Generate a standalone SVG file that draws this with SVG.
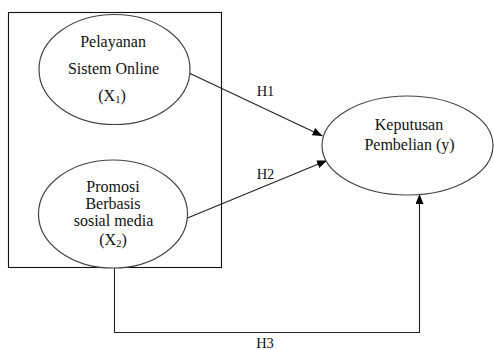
<svg xmlns="http://www.w3.org/2000/svg" width="494" height="350" viewBox="0 0 494 350">
  <defs>
    <marker id="arr" markerWidth="10" markerHeight="8" refX="10" refY="4" orient="auto" markerUnits="userSpaceOnUse">
      <path d="M0,0 L10,4 L0,8 Z" fill="#000"/>
    </marker>
    <style>
      .t { font-family: "Liberation Serif", "Times New Roman", serif; font-size: 16px; fill: #111; text-anchor: middle; }
      .h { font-family: "Liberation Serif", "Times New Roman", serif; font-size: 14.5px; fill: #111; text-anchor: middle; }
      .e { fill: #fff; stroke: #444; stroke-width: 1.2; }
      .c { fill: none; stroke: #222; stroke-width: 1.1; }
    </style>
  </defs>
  <rect width="494" height="350" fill="#fff"/>
  <rect x="8.5" y="12.5" width="213" height="255" fill="none" stroke="#111" stroke-width="1.1"/>

  <g id="connectors">
    <line class="c" x1="189" y1="73" x2="322.5" y2="136" marker-end="url(#arr)"/>
    <line class="c" x1="187.5" y1="218" x2="327" y2="160.5" marker-end="url(#arr)"/>
    <polyline class="c" points="114.5,268 114.5,332.5 419.5,332.5 419.5,194" marker-end="url(#arr)"/>
    <text class="h" x="265.5" y="96">H1</text>
    <text class="h" x="265.5" y="178.5">H2</text>
    <text class="h" x="265" y="348">H3</text>
  </g>

  <g id="x1">
    <ellipse class="e" cx="114.5" cy="69.5" rx="75.5" ry="55"/>
    <text class="t" x="113" y="46.5">Pelayanan</text>
    <text class="t" x="113.5" y="73.5">Sistem Online</text>
    <text class="t" x="112" y="101">(X<tspan font-size="10.5" dy="2">1</tspan><tspan dy="-2">)</tspan></text>
  </g>

  <g id="x2">
    <ellipse class="e" cx="113" cy="214" rx="74.5" ry="54"/>
    <text class="t" x="113" y="191.5">Promosi</text>
    <text class="t" x="113" y="208.5">Berbasis</text>
    <text class="t" x="113.5" y="226">sosial media</text>
    <text class="t" x="113" y="244.5">(X<tspan font-size="10.5" dy="2">2</tspan><tspan dy="-2">)</tspan></text>
  </g>

  <g id="y">
    <ellipse class="e" cx="407.5" cy="145.5" rx="85.5" ry="49.5"/>
    <text class="t" x="409" y="129.5">Keputusan</text>
    <text class="t" x="409.5" y="150">Pembelian (y)</text>
  </g>
</svg>
